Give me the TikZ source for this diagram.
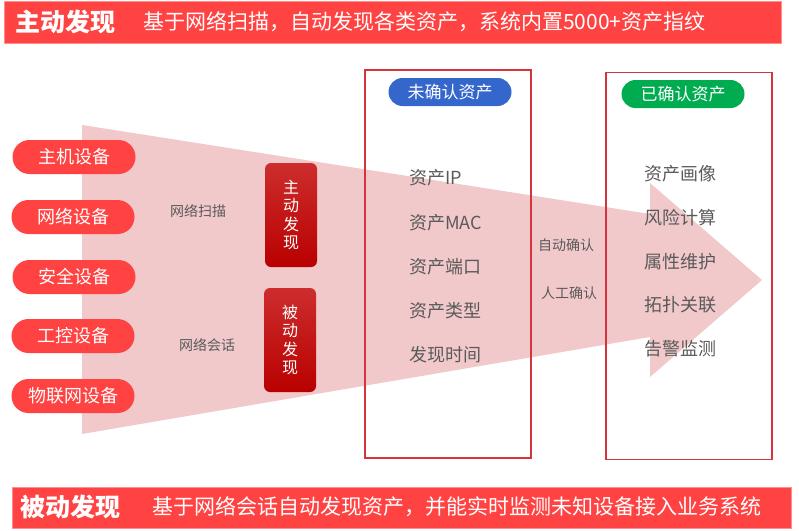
\documentclass[tikz,border=0pt]{standalone}
\usepackage{fontspec}
\setmainfont{Noto Sans CJK SC}
\usepackage{tikz}

\definecolor{bannerred}{RGB}{255,66,66}
\definecolor{devred}{RGB}{255,66,66}
\definecolor{flowpink}{RGB}{241,201,202}
\definecolor{panelred}{RGB}{214,52,60}
\definecolor{tagblue}{RGB}{52,102,204}
\definecolor{taggreen}{RGB}{0,172,80}
\definecolor{itemgray}{RGB}{90,90,90}
\definecolor{modetop}{RGB}{205,45,45}
\definecolor{modebot}{RGB}{185,0,0}

\begin{document}
\begin{tikzpicture}[
    x=1pt,y=-1pt,
    banner/.style={fill=bannerred, draw=bannerred!60, anchor=north west, inner sep=0pt},
    bartitle/.style={anchor=west, inner sep=0pt, text=white, font=\fontsize{25}{27}\selectfont\bfseries},
    bartext/.style={anchor=west, inner sep=0pt, text=white, font=\fontsize{21}{23}\selectfont},
    device/.style={fill=devred, text=white, rounded corners=17pt, minimum width=123pt,
      minimum height=34pt, inner sep=0pt, font=\fontsize{18}{20}\selectfont},
    mode/.style={top color=modetop, bottom color=modebot, rounded corners=6pt,
      text=white, minimum width=52pt, minimum height=104pt, align=center, inner sep=0pt,
      font=\fontsize{16}{18.5}\selectfont},
    small/.style={text=itemgray, inner sep=0pt, font=\fontsize{14}{16}\selectfont},
    panel/.style={draw=panelred, line width=1.5pt, inner sep=0pt},
    tag/.style={text=white, rounded corners=14pt, minimum width=123pt, minimum height=28pt,
      inner sep=0pt, font=\fontsize{17}{19}\selectfont},
    item/.style={anchor=west, text=itemgray, inner sep=0pt, font=\fontsize{18}{20}\selectfont}
    ]
    \useasboundingbox (0,0) rectangle (799,530);

    % big arrow
    \fill[flowpink] (82,125) -- (650,214) -- (650,183) -- (762,280) -- (650,377)
      -- (650,337) -- (82,434) -- cycle;

    % banners
    \node[banner, minimum width=777pt, minimum height=42pt] (topbar) at (4,1) {};
    \node[bartitle] (toptitle) at (15,22) {主动发现};
    \node[bartext] (toptext) at (143,22) {基于网络扫描，自动发现各类资产，系统内置5000+资产指纹};
    \node[banner, minimum width=779pt, minimum height=41pt] (botbar) at (12,487) {};
    \node[bartitle] (bottitle) at (20,507) {被动发现};
    \node[bartext] (bottext) at (152,507) {基于网络会话自动发现资产，并能实时监测未知设备接入业务系统};

    % devices
    \node[device] (host) at (74,157) {主机设备};
    \node[device] (net) at (73,217) {网络设备};
    \node[device] (sec) at (74,277) {安全设备};
    \node[device] (ics) at (73,336) {工控设备};
    \node[device] (iot) at (73,396) {物联网设备};

    \node[small] (scan) at (198,211) {网络扫描};
    \node[small] (session) at (207,345) {网络会话};

    \node[mode] (active) at (291,215) {主\\动\\发\\现};
    \node[mode] (passive) at (290,340) {被\\动\\发\\现};

    % unconfirmed assets
    \node[panel, minimum width=166pt, minimum height=388pt] (pending) at (448,264) {};
    \node[tag, fill=tagblue] (pendtag) at (450,92) {未确认资产};
    \node[item] (ip) at (409,178) {资产IP};
    \node[item] (mac) at (409,223) {资产MAC};
    \node[item] (port) at (409,267) {资产端口};
    \node[item] (type) at (409,311) {资产类型};
    \node[item] (time) at (409,355) {发现时间};

    \node[small] (auto) at (566,245) {自动确认};
    \node[small] (manual) at (569,293) {人工确认};

    % confirmed assets
    \node[panel, minimum width=166pt, minimum height=387pt] (confirmed) at (689,266) {};
    \node[tag, fill=taggreen] (donetag) at (683,94) {已确认资产};
    \node[item] (profile) at (644,174) {资产画像};
    \node[item] (risk) at (644,218) {风险计算};
    \node[item] (attr) at (644,262) {属性维护};
    \node[item] (topo) at (644,305) {拓扑关联};
    \node[item] (alarm) at (644,349) {告警监测};
  \end{tikzpicture}
\end{document}
